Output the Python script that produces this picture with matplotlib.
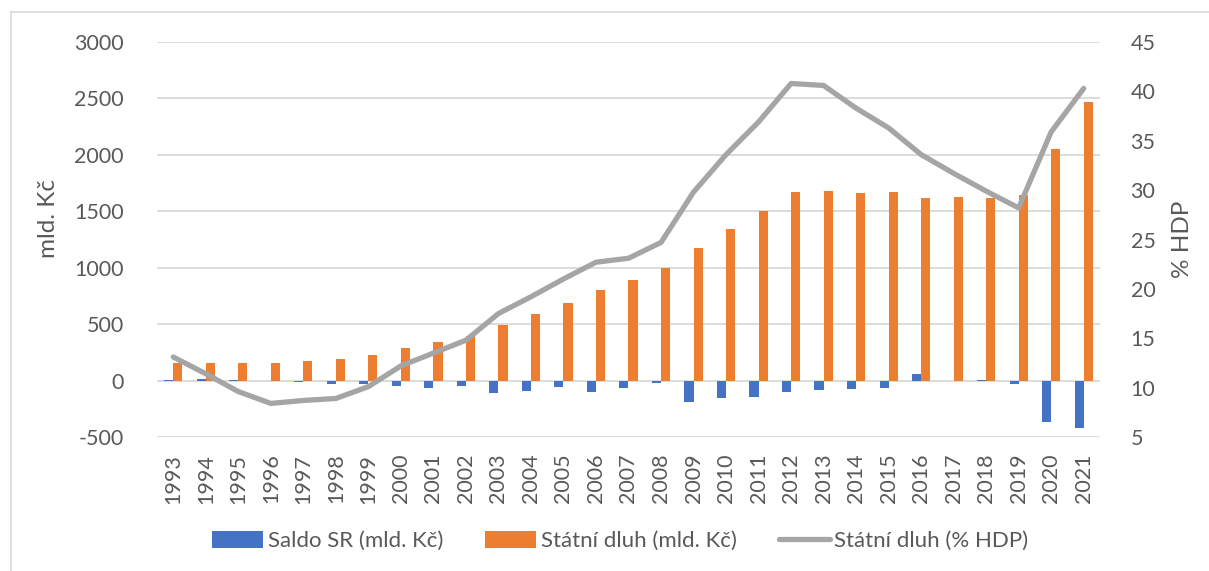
import numpy as np
import matplotlib
matplotlib.use('Agg')
from matplotlib import pyplot as plt
from matplotlib.lines import Line2D

plt.rcParams['font.family'] = ['Lato', 'DejaVu Sans']
plt.rcParams['axes.unicode_minus'] = False

years = [str(y) for y in range(1993, 2022)]
saldo = [1.1, 10.4, 7.2, -1.6, -15.7, -29.3, -29.6, -46.1, -67.7, -45.7,
         -109.1, -93.7, -56.3, -97.6, -66.4, -20.0, -192.4, -156.4, -142.8, -101.0,
         -81.3, -77.8, -62.8, 61.8, -6.2, 2.9, -28.5, -367.4, -419.7]
dluh = [158.8, 157.3, 154.4, 155.2, 173.1, 194.7, 228.4, 289.3, 345.0, 395.9,
        493.2, 592.9, 691.2, 802.5, 892.3, 999.8, 1178.2, 1344.1, 1499.4, 1667.6,
        1683.3, 1663.7, 1673.0, 1613.4, 1624.7, 1622.0, 1640.2, 2049.7, 2465.7]
dluh_hdp = [13.1, 11.4, 9.6, 8.4, 8.7, 8.9, 10.1, 12.2, 13.5, 14.8,
            17.5, 19.2, 21.0, 22.7, 23.1, 24.7, 29.8, 33.6, 36.9, 40.8,
            40.6, 38.3, 36.3, 33.6, 31.7, 29.9, 28.2, 35.9, 40.3]

txt = '#595959'
blue = '#4472C4'
orange = '#ED7D31'
grey = '#A5A5A5'

fig = plt.figure(figsize=(12.09, 5.71), dpi=100)
ax = fig.add_axes([0.1299, 0.2347, 0.7799, 0.6917])
ax2 = ax.twinx()

x = np.arange(len(years))
w = 0.28
ax.bar(x - w / 2, saldo, w, color=blue, label='Saldo SR (mld. Kč)', zorder=2)
ax.bar(x + w / 2, dluh, w, color=orange, label='Státní dluh (mld. Kč)', zorder=2)
ax2.plot(x, dluh_hdp, color=grey, lw=3.8, solid_capstyle='round', label='Státní dluh (% HDP)')

ax.set_xlim(-0.5, len(years) - 0.5)
ax.set_ylim(-500, 3000)
ax.set_yticks(np.arange(-500, 3001, 500))
ax2.set_ylim(5, 45)
ax2.set_yticks(np.arange(5, 46, 5))
ax.set_xticks(x)
ax.set_xticklabels(years, rotation=90)

ax.grid(axis='y', color='#D9D9D9', lw=1.3, zorder=0)
ax.set_axisbelow(True)
for a in (ax, ax2):
    for s in a.spines.values():
        s.set_visible(False)
ax.tick_params(axis='y', length=0, pad=24, labelsize=15.5, labelcolor=txt)
ax.tick_params(axis='x', length=0, pad=12, labelsize=15.5, labelcolor=txt)
ax2.tick_params(axis='y', length=0, pad=22, labelsize=15.5, labelcolor=txt)

ax.set_ylabel('mld. Kč', fontsize=17.5, color=txt)
ax.yaxis.set_label_coords(-0.104, 0.552)
ax2.set_ylabel('% HDP', fontsize=17.5, color=txt, rotation=90)
ax2.yaxis.set_label_coords(1.076, 0.5)

h1, l1 = ax.get_legend_handles_labels()
h2 = [Line2D([0], [0], color=grey, lw=3.8, solid_capstyle='round')]
fig.legend(h1 + h2, l1 + ['Státní dluh (% HDP)'], loc='center', bbox_to_anchor=(0.513, 0.052),
           ncol=3, frameon=False, fontsize=16, labelcolor=txt, handlelength=2.3,
           handleheight=0.75, handletextpad=0.2, columnspacing=1.9)

# light frame around the chart like in the source
fig.add_artist(Line2D([11 / 1209, 11 / 1209], [0, 1 - 12 / 571], transform=fig.transFigure,
                      color='#D9D9D9', lw=1.2))
fig.add_artist(Line2D([11 / 1209, 1], [1 - 12 / 571, 1 - 12 / 571], transform=fig.transFigure,
                      color='#D9D9D9', lw=1.2))

fig.savefig('out.png', dpi=100)
